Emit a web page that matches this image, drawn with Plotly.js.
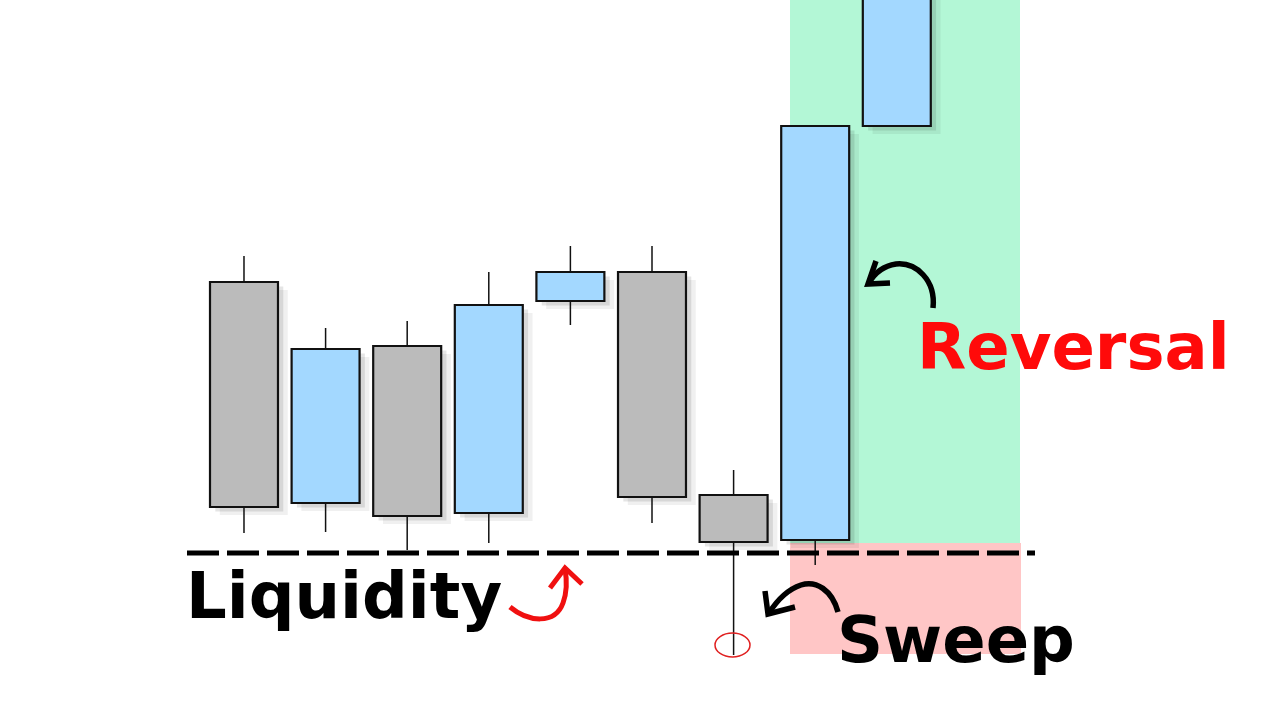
<!DOCTYPE html>
<html>
<head>
<meta charset="utf-8">
<script src="https://cdn.plot.ly/plotly-3.0.1.min.js"></script>
<style>html,body{margin:0;padding:0;background:#fff;}#chart{width:1280px;height:720px;}</style>
</head>
<body>
<div id="chart"></div>
<script>
// Candle data (price units)
const candleIndex = [1, 2, 3, 4, 5, 6, 7, 8, 9];
const openPrices  = [43.8, 21.7, 37.4, 20.7, 41.9, 44.8, 22.5, 18.0, 59.4];
const highPrices  = [46.4, 39.2, 39.9, 44.8, 47.4, 47.4, 25.0, 59.4, 78.0];
const lowPrices   = [18.7, 18.8, 17.0, 17.7, 39.5, 19.7, 6.5, 15.5, 59.4];
const closePrices = [21.3, 37.1, 20.4, 41.5, 44.8, 22.3, 17.8, 59.4, 76.0];
const liquidityLevel = 16.7;
const labels = ["Liquidity", "Reversal", "Sweep"];

const BULL = '#A3D8FF', BEAR = '#BBBBBB';
const bodyBase = openPrices.map((o, i) => Math.min(o, closePrices[i]));
const bodyTop = openPrices.map((o, i) => Math.max(o, closePrices[i]));
const bodyH = bodyTop.map((t, i) => t - bodyBase[i]);
const colors = openPrices.map((o, i) => closePrices[i] >= o ? BULL : BEAR);

// wicks as segments outside the bodies
const wx = [], wy = [];
candleIndex.forEach((x, i) => {
  if (highPrices[i] > bodyTop[i]) { wx.push(x, x, null); wy.push(bodyTop[i], highPrices[i], null); }
  if (lowPrices[i] < bodyBase[i]) { wx.push(x, x, null); wy.push(lowPrices[i], bodyBase[i], null); }
});

const W = 0.833;
const traces = [
  { type: 'bar', x: candleIndex.map(x => x + 0.12), base: bodyBase.map(b => b - 0.8), y: bodyH,
    width: W, marker: { color: 'rgba(0,0,0,0.06)', line: { width: 0 } }, hoverinfo: 'skip' },
  { type: 'bar', x: candleIndex.map(x => x + 0.065), base: bodyBase.map(b => b - 0.45), y: bodyH,
    width: W, marker: { color: 'rgba(0,0,0,0.10)', line: { width: 0 } }, hoverinfo: 'skip' },
  { type: 'bar', x: candleIndex, base: bodyBase, y: bodyH, width: W,
    marker: { color: colors, line: { color: '#111', width: 2.2 } } },
  { type: 'scatter', mode: 'lines', x: wx, y: wy, line: { color: '#111', width: 1.5 }, hoverinfo: 'skip' }
];

const px = (x) => x / 1280, py = (y) => 1 - y / 720;
const P = (x, y) => px(x) + ',' + py(y);

const shapes = [
  { type: 'rect', layer: 'below', xref: 'paper', yref: 'paper', x0: px(790), x1: px(1020), y0: py(543), y1: 1,
    fillcolor: '#B3F7D6', line: { width: 0 } },
  { type: 'rect', layer: 'below', xref: 'paper', yref: 'paper', x0: px(790), x1: px(1021), y0: py(654), y1: py(543),
    fillcolor: '#FFC6C6', line: { width: 0 } },
  { type: 'line', xref: 'paper', yref: 'y', x0: px(187), x1: px(1035), y0: liquidityLevel, y1: liquidityLevel,
    line: { color: '#000', width: 5, dash: '32px,8px' } },
  { type: 'circle', xref: 'paper', yref: 'paper', x0: px(715), x1: px(750), y0: py(657), y1: py(633),
    line: { color: '#E02020', width: 1.5 } },
  // Reversal arrow
  { type: 'path', xref: 'paper', yref: 'paper', path: `M${P(933,308)} C${P(936,280)} ${P(916,262)} ${P(896,264)} C${P(883,266)} ${P(874,274)} ${P(869,283)}`,
    line: { color: '#000', width: 5.5 } },
  { type: 'path', xref: 'paper', yref: 'paper', path: `M${P(876,261)} L${P(868,284)} L${P(890,283)}`,
    line: { color: '#000', width: 5.5 } },
  // Liquidity red arrow
  { type: 'path', xref: 'paper', yref: 'paper', path: `M${P(510,607)} C${P(528,622)} ${P(555,625)} ${P(563,603)} C${P(567,592)} ${P(567,580)} ${P(565,569)}`,
    line: { color: '#F01010', width: 5 } },
  { type: 'path', xref: 'paper', yref: 'paper', path: `M${P(550,588)} L${P(565,568)} L${P(582,584)}`,
    line: { color: '#F01010', width: 5 } },
  // Sweep arrow
  { type: 'path', xref: 'paper', yref: 'paper', path: `M${P(838,612)} C${P(832,590)} ${P(816,580)} ${P(801,585)} C${P(786,590)} ${P(776,602)} ${P(769,613)}`,
    line: { color: '#000', width: 5.5 } },
  { type: 'path', xref: 'paper', yref: 'paper', path: `M${P(765,591)} L${P(768,614)} L${P(795,607)}`,
    line: { color: '#000', width: 5.5 } }
];

const FONT = '"DejaVu Sans", Inter, sans-serif';
const annotations = [
  { xref: 'paper', yref: 'paper', x: px(184), y: py(596), xanchor: 'left', yanchor: 'middle', showarrow: false,
    text: '<b>' + labels[0] + '</b>', font: { family: FONT, size: 64, color: '#000' } },
  { xref: 'paper', yref: 'paper', x: px(915), y: py(347), xanchor: 'left', yanchor: 'middle', showarrow: false,
    text: '<b>' + labels[1] + '</b>', font: { family: FONT, size: 64, color: '#FF0a0a' } },
  { xref: 'paper', yref: 'paper', x: px(835), y: py(640), xanchor: 'left', yanchor: 'middle', showarrow: false,
    text: '<b>' + labels[2] + '</b>', font: { family: FONT, size: 64, color: '#000' } }
];

const layout = {
  width: 1280, height: 720,
  margin: { l: 0, r: 0, t: 0, b: 0 },
  paper_bgcolor: '#fff', plot_bgcolor: 'rgba(0,0,0,0)',
  showlegend: false, barmode: 'overlay',
  xaxis: { range: [-1.99, 13.696], visible: false, showgrid: false, zeroline: false, fixedrange: true },
  yaxis: { range: [0, 72], visible: false, showgrid: false, zeroline: false, fixedrange: true },
  shapes, annotations
};

Plotly.newPlot('chart', traces, layout, { staticPlot: true, displayModeBar: false });
</script>
</body>
</html>
